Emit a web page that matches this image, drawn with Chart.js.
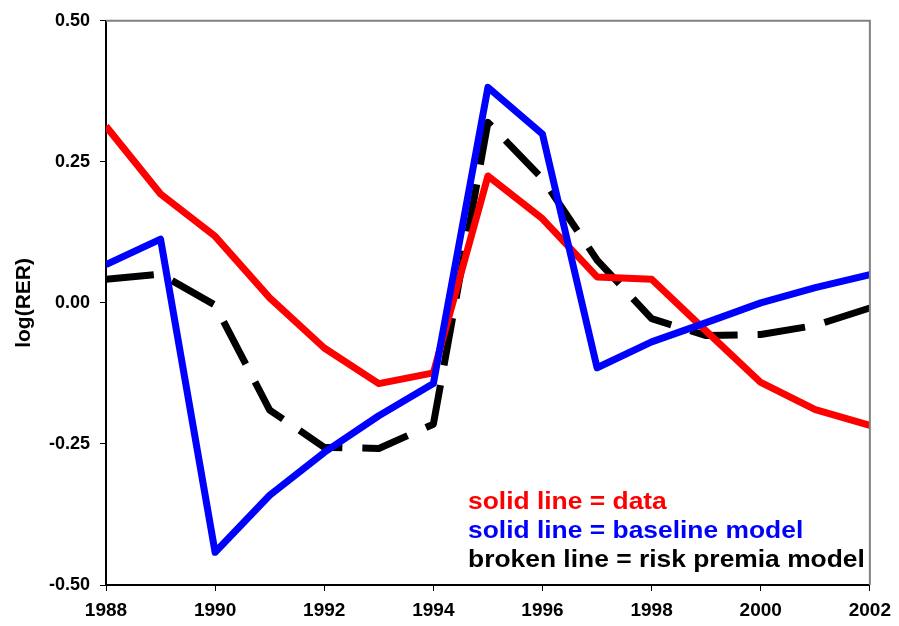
<!DOCTYPE html>
<html>
<head>
<meta charset="utf-8">
<script src="https://cdn.jsdelivr.net/npm/chart.js@4.4.1/dist/chart.umd.min.js"></script>
<style>
    html, body { margin: 0; padding: 0; background: #fff; }
    #wrap { width: 899px; height: 626px; }
</style>
</head>
<body>
<div id="wrap"><canvas id="rerChart" width="899" height="626"></canvas></div>
<script>

const years = [1988, 1989, 1990, 1991, 1992, 1993, 1994, 1995, 1996, 1997, 1998, 1999, 2000, 2001, 2002];

// log(RER)
const dataSeries     = [0.313, 0.193, 0.118, 0.009, -0.080, -0.143, -0.124, 0.225, 0.149, 0.046, 0.042, -0.050, -0.141, -0.189, -0.217];
const baselineSeries = [0.068, 0.113, -0.442, -0.341, -0.265, -0.200, -0.143, 0.382, 0.299, -0.115, -0.069, -0.035, 0.000, 0.027, 0.050];
const riskSeries     = [0.042, 0.051, -0.004, -0.190, -0.256, -0.258, -0.215, 0.320, 0.220, 0.076, -0.028, -0.058, -0.056, -0.040, -0.009];

const yTicks = [-0.50, -0.25, 0.00, 0.25, 0.50];

const legendLines = [
    { text: "solid line = data", color: "#ff0000" },
    { text: "solid line = baseline model", color: "#0000ff" },
    { text: "broken line = risk premia model", color: "#000000" }
];

const FONT = "Arial, 'Liberation Sans', sans-serif";

function toPoints(values) {
    return years.map((yr, i) => ({ x: yr, y: values[i] }));
}

// gray frame on top/right + the text block in the lower right
const extras = {
    id: "extras",
    afterDatasetsDraw(chart) {
        const { ctx, chartArea } = chart;
        ctx.save();
        ctx.strokeStyle = "#808080";
        ctx.lineWidth = 2;
        ctx.beginPath();
        ctx.moveTo(chartArea.left, chartArea.top);
        ctx.lineTo(chartArea.right, chartArea.top);
        ctx.lineTo(chartArea.right, chartArea.bottom);
        ctx.stroke();

        ctx.font = "bold 24px " + FONT;
        ctx.textAlign = "left";
        ctx.textBaseline = "alphabetic";
        legendLines.forEach((line, i) => {
            ctx.save();
            ctx.translate(468, 509 + i * 29);
            ctx.scale(1.1, 1);   // text in the original is a bit wide
            ctx.fillStyle = line.color;
            ctx.fillText(line.text, 0, 0);
            ctx.restore();
        });
        ctx.restore();
    }
};

const ctx = document.getElementById("rerChart").getContext("2d");

new Chart(ctx, {
    type: "line",
    data: {
        datasets: [
            {
                label: "baseline model",
                data: toPoints(baselineSeries),
                borderColor: "#0000ff",
                borderWidth: 7
            },
            {
                label: "data",
                data: toPoints(dataSeries),
                borderColor: "#ff0000",
                borderWidth: 7
            },
            {
                label: "risk premia model",
                data: toPoints(riskSeries),
                borderColor: "#000000",
                borderWidth: 7,
                borderDash: [48, 20]
            }
        ]
    },
    options: {
        responsive: false,
        animation: false,
        layout: { padding: { top: 19, right: 22, left: 0, bottom: 0 } },
        elements: {
            point: { radius: 0 },
            line: { tension: 0, borderCapStyle: "butt", borderJoinStyle: "round" }
        },
        plugins: {
            legend: { display: false },
            tooltip: { enabled: false }
        },
        scales: {
            x: {
                type: "linear",
                min: 1988,
                max: 2002,
                afterFit: scale => { scale.height = 41; },
                ticks: {
                    stepSize: 2,
                    color: "#000",
                    padding: 8,
                    maxRotation: 0,
                    font: { family: FONT, size: 19, weight: "bold" },
                    callback: v => String(v)
                },
                grid: { drawOnChartArea: false, tickLength: 6, color: "#000", lineWidth: 1 },
                border: { color: "#000", width: 2 }
            },
            y: {
                min: -0.5,
                max: 0.5,
                afterFit: scale => { scale.width = 106; },
                afterBuildTicks: scale => { scale.ticks = yTicks.map(v => ({ value: v })); },
                ticks: {
                    color: "#000",
                    padding: 10,
                    font: { family: FONT, size: 18, weight: "bold" },
                    callback: v => v.toFixed(2)
                },
                grid: { drawOnChartArea: false, tickLength: 6, color: "#000", lineWidth: 1 },
                border: { color: "#000", width: 2 },
                title: {
                    display: true,
                    text: "log(RER)",
                    color: "#000",
                    padding: { top: 12, bottom: 0 },
                    font: { family: FONT, size: 21, weight: "bold" }
                }
            }
        }
    },
    plugins: [extras]
});
</script>
</body>
</html>
